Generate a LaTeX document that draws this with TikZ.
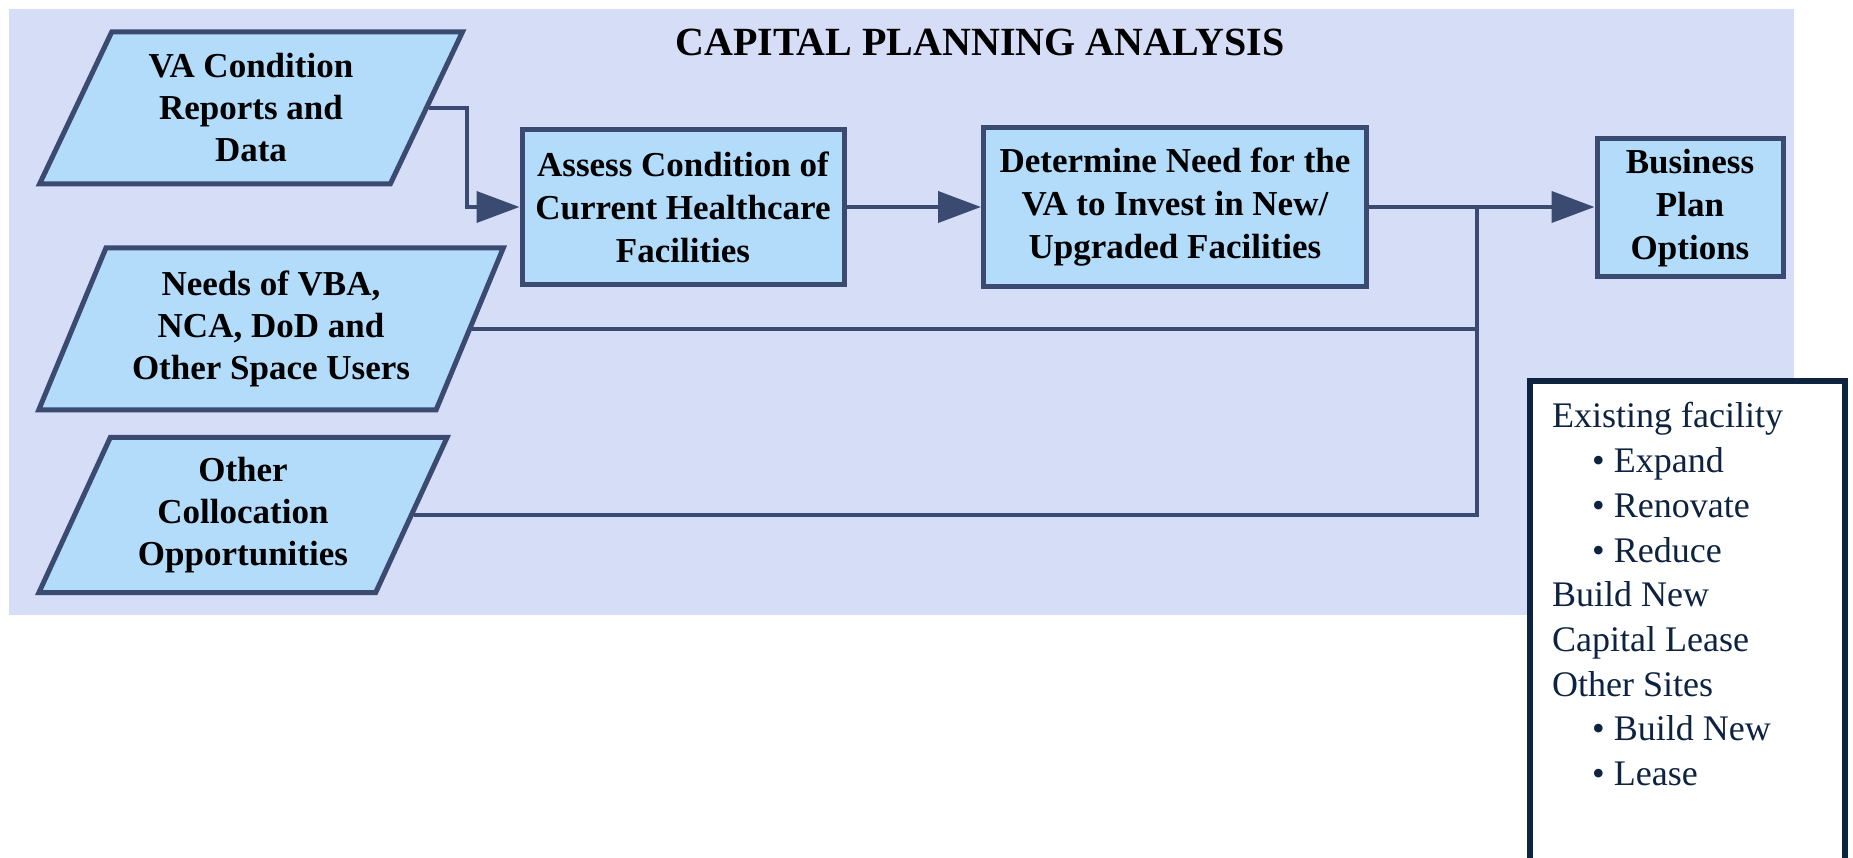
\documentclass[tikz,border=0pt]{standalone}
\usepackage{fontspec}
\setmainfont{Liberation Serif}
\usetikzlibrary{shapes.geometric,arrows.meta}
\definecolor{panelbg}{HTML}{D6DDF6}
\definecolor{boxfill}{HTML}{B3DBFA}
\definecolor{boxline}{HTML}{3B4A70}
\definecolor{listnavy}{HTML}{0E2340}
\begin{document}
\begin{tikzpicture}[x=1pt,y=-1pt,every path/.style={>={Triangle[length=43pt,width=31pt]}},
	inbox/.style={trapezium,trapezium left angle=64,trapezium right angle=116,trapezium stretches,
		draw=boxline,fill=boxfill,line width=5pt,align=center,inner sep=0pt,
		font=\fontsize{35}{42}\selectfont\bfseries},
	stepbox/.style={rectangle,draw=boxline,fill=boxfill,line width=5pt,align=center,inner sep=0pt,
		font=\fontsize{35}{43}\selectfont\bfseries},
	flow/.style={draw=boxline,line width=4pt}]
		\useasboundingbox (0,0) rectangle (1853,858);
		
		% draw background panel
		\fill[panelbg] (9,9) rectangle (1794,615);
		\node (title) at (980,42) {\fontsize{40}{48}\selectfont\bfseries CAPITAL PLANNING ANALYSIS};
		
		% draw input parallelograms
		\node[inbox,minimum width=423pt,minimum height=152pt] (va) at (251,108) {VA Condition\\Reports and\\Data};
		\node[inbox,minimum width=466pt,minimum height=162pt] (needs) at (271,329) {Needs of VBA,\\NCA, DoD and\\Other Space Users};
		\node[inbox,minimum width=410pt,minimum height=155pt] (other) at (243,515) {Other\\Collocation\\Opportunities};
		
		% draw process boxes
		\node[stepbox,minimum width=322pt,minimum height=155pt] (assess) at (683,207) {Assess Condition of\\Current Healthcare\\Facilities};
		\node[stepbox,minimum width=383pt,minimum height=159pt] (determine) at (1175,207) {Determine Need for the\\VA to Invest in New/\\Upgraded Facilities};
		\node[stepbox,minimum width=186pt,minimum height=138pt] (business) at (1690,208) {Business\\Plan\\Options};
		
		% draw connectors
		\coordinate (turn) at (467,0);
		\coordinate (bus) at (1477,207);
		\draw[flow,->] (va.east) -- (va.east -| turn) |- (assess.west);
		\draw[flow,->] (assess.east) -- (determine.west);
		\draw[flow,->] (determine.east) -- (determine.east -| business.west);
		\draw[flow] (needs.east) -- (needs.east -| bus);
		\draw[flow] (other.east) -| (bus);
		
		% draw list of options
		\draw[listnavy,line width=6pt,fill=white] (1530,858) |- (1845,381) -- (1845,858);
		\foreach \txt/\ind [count=\i] in {Existing facility/0,Expand/1,Renovate/1,Reduce/1,Build New/0,Capital Lease/0,Other Sites/0,Build New/1,Lease/1}
		{
			\node[anchor=base west,inner sep=0pt,text=listnavy,font=\fontsize{36}{44}\selectfont] (opt-\i) at ({1552+40*\ind},{428+44.7*(\i-1)}) {\ifnum\ind=1 \textbullet\ \fi\txt};
		}
\end{tikzpicture}
\end{document}
